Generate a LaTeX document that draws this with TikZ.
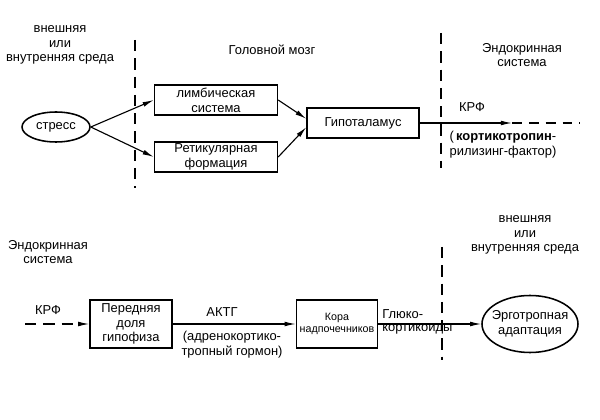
\documentclass[tikz,border=0pt]{standalone}
\usepackage{fontspec}
\setmainfont{Liberation Sans}
\usetikzlibrary{shapes.geometric,arrows.meta}
\tikzset{
  blk/.style={rectangle,draw,line width=1pt,inner sep=0.5pt,align=center},
  ovl/.style={ellipse,draw,line width=1.1pt,inner sep=0pt},
  arr/.style={-{Latex[length=2.8mm,width=1.2mm]},line width=0.8pt},
  divline/.style={line width=0.8pt,dash pattern=on 8pt off 5pt},
  lbl/.style={align=center,inner sep=0pt}
}
\begin{document}
\begin{tikzpicture}[font=\fontsize{9.2}{10.5}\selectfont]
\useasboundingbox (0,0) rectangle (15,10.5);

% upper row
	\node (S) [ovl,minimum width=1.7cm,minimum height=0.75cm] at (1.4,7.325) {стресс};
	\node (L) [blk,minimum width=3.075cm,minimum height=0.75cm] at (5.4,8.0) {лимбическая\\система};
	\node (R) [blk,minimum width=3.075cm,minimum height=0.75cm] at (5.4,6.575) {Ретикулярная\\формация};
	\node (G) [blk,minimum width=2.8cm,minimum height=0.75cm] at (9.075,7.425) {Гипоталамус};
	\coordinate (krfA) at (12.8,7.425);
	\coordinate (krfB) at (14.5,7.425);

     \draw [divline] (3.375,9.5)--(3.375,5.8);
     \draw [divline] (11.025,9.675)--(11.025,6.3);
     \draw [arr] (S.east) -- (L.west);
     \draw [arr] (S.east) -- (R.west);
     \draw [arr] (L.east) -- ([yshift=3pt]G.west);
     \draw [arr] (R.east) -- ([yshift=-3pt]G.west);
     \draw [arr] (G.east) -- (krfA);
     \draw [line width=0.8pt,dash pattern=on 7pt off 5pt] (krfA) -- (krfB);

 \node at (1.5,9.375) [lbl] {внешняя\\или\\внутренняя среда};
 \node at (6.8,9.25) [lbl] {Головной мозг};
 \node at (13.05,9.125) [lbl] {Эндокринная\\система};
 \node at (11.8,7.825) [lbl] {КРФ};
 \node at (12.575,6.875) [lbl] {(\,\textbf{кортикотропин}-\\рилизинг-фактор)};

% lower row
	\node (P) [blk,minimum width=2.05cm,minimum height=1.2cm] at (3.275,2.4) {Передняя\\доля\\гипофиза};
	\node (K) [blk,minimum width=2.025cm,minimum height=1.2cm,font=\fontsize{7.6}{9}\selectfont] at (8.425,2.4) {Кора\\надпочечников};
	\node (E) [ovl,minimum width=2.4cm,minimum height=1.425cm] at (13.25,2.4) {};
	\coordinate (krfC) at (0.625,2.4);

     \draw [divline] (11.05,4.325)--(11.05,1.5);
     \draw [arr,dash pattern=on 8pt off 5pt] (krfC) -- (P.west);
     \draw [arr] (P.east) -- (K.west);
     \draw [arr] (K.east) -- (E.west);

 \node at (1.2,4.2) [lbl] {Эндокринная\\система};
 \node at (1.2,2.75) [lbl] {КРФ};
 \node at (5.55,2.7) [lbl] {АКТГ};
 \node at (5.8,1.875) [lbl] {(адренокортико-\\тропный гормон)};
 \node at (9.55,2.45) [lbl,anchor=west,align=left,font=\fontsize{9.2}{9.5}\selectfont] {Глюко-\\кортикоиды};
 \node at (E) [lbl] {Эрготропная\\адаптация};
 \node at (13.125,4.625) [lbl] {внешняя\\или\\внутренняя среда};
\end{tikzpicture}
\end{document}
